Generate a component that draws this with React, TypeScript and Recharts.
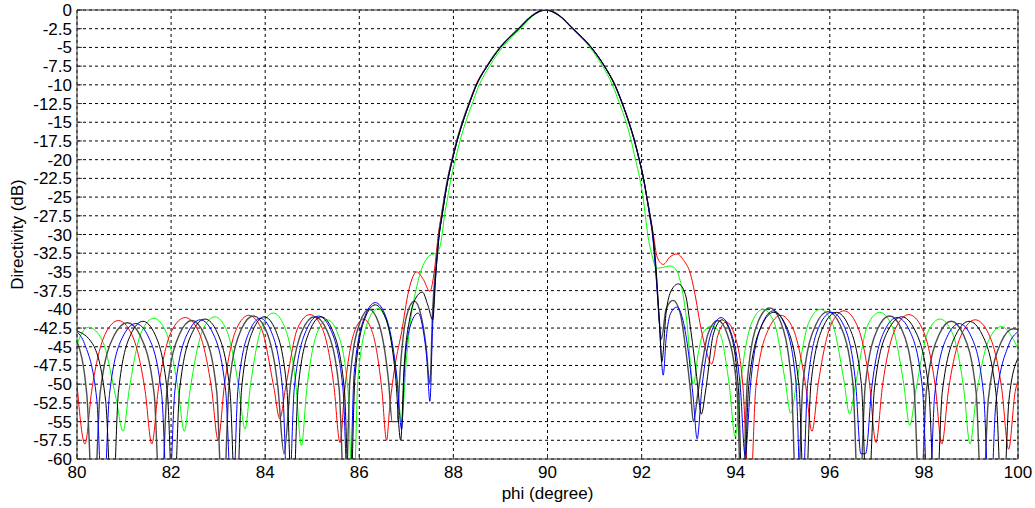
import React from 'react';
import { LineChart, Line, XAxis, YAxis, CartesianGrid } from 'recharts';

type Pt = [number, number];

const xTicks = [80, 82, 84, 86, 88, 90, 92, 94, 96, 98, 100];
const yTicks = [
  0, -2.5, -5, -7.5, -10, -12.5, -15, -17.5, -20, -22.5, -25, -27.5, -30,
  -32.5, -35, -37.5, -40, -42.5, -45, -47.5, -50, -52.5, -55, -57.5, -60,
];

// [phi (degree), directivity (dB)]
const redPattern: Pt[] = [
  [80, -50], [80.17, -58],
  [80.31, -51], [80.6, -43.3], [80.88, -41.5], [81.16, -43.3], [81.45, -51], [81.59, -58],
  [81.73, -50.6], [82.01, -42.9], [82.3, -41.1], [82.58, -42.9], [82.86, -50.6], [83.0, -57.5],
  [83.13, -50.3], [83.39, -42.6], [83.65, -40.8], [83.92, -42.6], [84.18, -50.3], [84.31, -54.6],
  [84.44, -50.2], [84.69, -42.5], [84.95, -40.7], [85.21, -42.5], [85.46, -50.2], [85.59, -57.8],
  [85.69, -50.8], [85.89, -43.1], [86.09, -41.3], [86.28, -43.1], [86.48, -50.8], [86.58, -57.5],
  [86.65, -52.8], [86.76, -47.5], [86.9, -43], [87.05, -37.5], [87.22, -35], [87.36, -36], [87.5, -37.6], [87.6, -34.6], [87.68, -30],
  [87.74, -27.5], [87.81, -25], [87.88, -22.5], [87.97, -20], [88.07, -17.5], [88.19, -15], [88.33, -12.5], [88.48, -10],
  [88.71, -7.5], [88.99, -5], [89.38, -2.5], [89.66, -0.8], [89.82, -0.2], [89.96, 0], [90.1, -0.2], [90.26, -0.8],
  [90.54, -2.5], [90.93, -5], [91.21, -7.5], [91.43, -10], [91.59, -12.5], [91.73, -15], [91.85, -17.5], [91.95, -20],
  [92.04, -22.5], [92.11, -25], [92.18, -27.5], [92.25, -30], [92.33, -33], [92.46, -34], [92.6, -33], [92.75, -32.6],
  [92.9, -33.5], [93.03, -35.1], [93.15, -38.5], [93.24, -41.8], [93.35, -45], [93.49, -47.3],
  [93.62, -43.5], [93.8, -41.7], [93.98, -43.5], [94.15, -50], [94.3, -66],
  [94.43, -50.3], [94.7, -42.6], [94.96, -40.8], [95.22, -42.6], [95.49, -50.3], [95.62, -56.3],
  [95.76, -49.7], [96.03, -42], [96.3, -40.2], [96.57, -42], [96.84, -49.7], [96.98, -57.8],
  [97.12, -50.2], [97.4, -42.5], [97.68, -40.7], [97.96, -42.5], [98.24, -50.2], [98.38, -58],
  [98.52, -50.9], [98.81, -43.2], [99.09, -41.4], [99.37, -43.2], [99.66, -50.9], [99.8, -58.7],
  [99.94, -51], [100, -49.5],
];

const greenPattern: Pt[] = [
  [80, -44.8], [80.1, -43.2], [80.25, -42.4], [80.54, -44.2], [80.83, -51.9], [80.98, -56.3],
  [81.11, -50.7], [81.37, -43], [81.63, -41.2], [81.89, -43], [82.15, -50.7], [82.28, -56.3],
  [82.41, -50.5], [82.67, -42.8], [82.93, -41], [83.18, -42.8], [83.44, -50.5], [83.57, -56],
  [83.69, -50], [83.93, -42.3], [84.17, -40.5], [84.41, -42.3], [84.65, -50], [84.77, -58.2],
  [84.88, -50.9], [85.1, -43.2], [85.32, -41.4], [85.54, -43.2], [85.76, -50.9], [85.87, -68],
  [85.97, -49.4], [86.18, -41.7], [86.39, -39.9], [86.59, -41.7], [86.8, -49.4], [86.9, -55],
  [87, -46.8], [87.1, -41], [87.22, -37], [87.35, -34.2], [87.5, -32.8], [87.66, -32.4], [87.72, -31.5], [87.76, -30],
  [87.81, -27.5], [87.88, -25], [87.95, -22.5], [88.04, -20], [88.14, -17.5], [88.26, -15], [88.4, -12.5], [88.55, -10],
  [88.77, -7.5], [89.04, -5], [89.42, -2.5], [89.69, -0.8], [89.84, -0.2], [89.98, 0], [90.12, -0.2], [90.27, -0.8],
  [90.53, -2.5], [90.9, -5], [91.17, -7.5], [91.38, -10], [91.53, -12.5], [91.67, -15], [91.78, -17.5], [91.87, -20],
  [91.96, -22.5], [92.03, -25], [92.08, -27.5], [92.13, -30], [92.21, -32.5], [92.32, -34.5], [92.45, -34.4],
  [92.6, -34.2], [92.72, -34.6], [92.85, -37], [92.95, -41], [93.1, -50],
  [93.2, -46], [93.32, -43], [93.5, -42.2], [93.68, -43.5], [93.86, -50], [93.99, -57],
  [94.11, -49.5], [94.34, -41.8], [94.58, -40], [94.82, -41.8], [95.05, -49.5], [95.17, -53.9],
  [95.3, -49.5], [95.55, -41.8], [95.8, -40], [96.05, -41.8], [96.3, -49.5], [96.42, -54],
  [96.55, -49.9], [96.8, -42.2], [97.06, -40.4], [97.32, -42.2], [97.57, -49.9], [97.7, -55.5],
  [97.83, -50.8], [98.08, -43.1], [98.34, -41.3], [98.6, -43.1], [98.85, -50.8], [98.98, -58],
  [99.11, -51.8], [99.38, -44.1], [99.65, -42.3], [99.9, -44], [100, -45.3],
];

const bluePattern: Pt[] = [
  [80, -43], [80.16, -44.6], [80.42, -52], [80.55, -68],
  [80.69, -51.4], [80.97, -43.7], [81.25, -41.9], [81.52, -43.7], [81.8, -51.4], [81.94, -68],
  [82.08, -50.9], [82.35, -43.2], [82.62, -41.4], [82.89, -43.2], [83.16, -50.9], [83.3, -68],
  [83.42, -50.7], [83.66, -43], [83.9, -41.2], [84.13, -43], [84.37, -50.7], [84.49, -68],
  [84.62, -50.4], [84.88, -42.7], [85.13, -40.9], [85.39, -42.7], [85.65, -50.4], [85.78, -68],
  [85.89, -48.6], [86.12, -40.9], [86.34, -39.1], [86.56, -40.9], [86.79, -48.6], [86.9, -56],
  [86.96, -48], [87.08, -42.3], [87.25, -40.5], [87.35, -42.5], [87.44, -47], [87.5, -52.3],
  [87.56, -42], [87.63, -35], [87.7, -30], [87.76, -27.5], [87.82, -25], [87.89, -22.5], [87.98, -20], [88.08, -17.5],
  [88.2, -15], [88.34, -12.5], [88.49, -10], [88.72, -7.5], [89.0, -5], [89.39, -2.5], [89.67, -0.8], [89.82, -0.2],
  [89.96, 0], [90.1, -0.2], [90.26, -0.8], [90.54, -2.5], [90.93, -5], [91.21, -7.5], [91.43, -10], [91.59, -12.5],
  [91.73, -15], [91.85, -17.5], [91.95, -20], [92.04, -22.5], [92.11, -25], [92.17, -27.5], [92.23, -30], [92.3, -35],
  [92.37, -41], [92.46, -48.8],
  [92.52, -44], [92.62, -40.5], [92.75, -39.7], [92.88, -41.5], [93, -46], [93.1, -52], [93.18, -57.3],
  [93.28, -50.6], [93.49, -42.9], [93.69, -41.1], [93.89, -42.9], [94.1, -50.6], [94.2, -59.5],
  [94.32, -49.7], [94.56, -42], [94.8, -40.2], [95.04, -42], [95.28, -49.7], [95.4, -68],
  [95.53, -49.9], [95.78, -42.2], [96.04, -40.4], [96.3, -42.2], [96.55, -49.9], [96.66, -59.3], [96.76, -59.3],
  [96.89, -50.6], [97.16, -42.9], [97.43, -41.1], [97.7, -42.9], [97.97, -50.6], [98.1, -68],
  [98.23, -51.4], [98.49, -43.7], [98.75, -41.9], [99.01, -43.7], [99.27, -51.4], [99.4, -68],
  [99.53, -52.5], [99.8, -44.8], [100, -43],
];

const grayPattern: Pt[] = [
  [80, -44.3], [80.21, -51.5], [80.35, -68],
  [80.49, -51.3], [80.78, -43.6], [81.07, -41.8], [81.35, -43.6], [81.64, -51.3], [81.78, -68],
  [81.91, -51], [82.18, -43.3], [82.44, -41.5], [82.7, -43.3], [82.97, -51], [83.1, -68],
  [83.23, -50.4], [83.49, -42.7], [83.75, -40.9], [84.01, -42.7], [84.27, -50.4], [84.4, -59.3],
  [84.53, -50.5], [84.79, -42.8], [85.05, -41], [85.31, -42.8], [85.57, -50.5], [85.7, -68],
  [85.8, -49.5], [86.01, -41.8], [86.21, -40], [86.41, -41.8], [86.62, -49.5], [86.7, -55], [86.8, -55],
  [86.87, -48], [87, -41], [87.17, -38.9], [87.3, -40.5], [87.42, -45], [87.5, -50],
  [87.56, -40], [87.63, -34], [87.69, -30], [87.75, -27.5], [87.81, -25], [87.88, -22.5], [87.97, -20], [88.07, -17.5],
  [88.19, -15], [88.33, -12.5], [88.49, -10], [88.71, -7.5], [88.99, -5], [89.38, -2.5], [89.66, -0.8], [89.82, -0.2],
  [89.96, 0], [90.1, -0.2], [90.26, -0.8], [90.54, -2.5], [90.93, -5], [91.21, -7.5], [91.43, -10], [91.59, -12.5],
  [91.73, -15], [91.85, -17.5], [91.95, -20], [92.04, -22.5], [92.11, -25], [92.18, -27.5], [92.24, -30], [92.31, -35],
  [92.37, -41], [92.42, -44],
  [92.52, -40], [92.67, -38.8], [92.82, -40.5], [92.95, -46], [93.04, -51], [93.1, -55],
  [93.2, -51], [93.41, -43.3], [93.62, -41.5], [93.82, -43.3], [94.03, -51], [94.13, -68],
  [94.25, -49.3], [94.48, -41.6], [94.72, -39.8], [94.95, -41.6], [95.18, -49.3], [95.3, -68],
  [95.43, -49.8], [95.7, -42.1], [95.96, -40.3], [96.22, -42.1], [96.49, -49.8], [96.62, -68],
  [96.75, -50.4], [97.01, -42.7], [97.27, -40.9], [97.53, -42.7], [97.79, -50.4], [97.92, -68],
  [98.05, -51.1], [98.32, -43.4], [98.58, -41.6], [98.84, -43.4], [99.11, -51.1], [99.24, -68],
  [99.37, -52], [99.64, -44.4], [99.9, -42.6], [100, -42.7],
];

const blackPattern: Pt[] = [
  [80, -42.9], [80.33, -44.6], [80.61, -52.3], [80.75, -68],
  [80.88, -51.1], [81.14, -43.4], [81.4, -41.6], [81.66, -43.4], [81.92, -51.1], [82.05, -68],
  [82.18, -50.8], [82.45, -43.1], [82.72, -41.3], [82.98, -43.1], [83.25, -50.8], [83.38, -68],
  [83.5, -50.5], [83.74, -42.8], [83.98, -41], [84.22, -42.8], [84.46, -50.5], [84.58, -68],
  [84.7, -50.5], [84.95, -42.8], [85.19, -41], [85.43, -42.8], [85.68, -50.5], [85.8, -68],
  [85.91, -48.9], [86.12, -41.2], [86.34, -39.4], [86.56, -41.2], [86.77, -48.9], [86.88, -57.5],
  [86.95, -48], [87.08, -41], [87.2, -38.5], [87.34, -37.7], [87.46, -39.5], [87.56, -41.4],
  [87.63, -35], [87.7, -30], [87.76, -27.5], [87.82, -25], [87.89, -22.5], [87.98, -20], [88.08, -17.5], [88.2, -15],
  [88.34, -12.5], [88.49, -10], [88.72, -7.5], [89.0, -5], [89.39, -2.5], [89.67, -0.8], [89.82, -0.2], [89.96, 0],
  [90.1, -0.2], [90.26, -0.8], [90.54, -2.5], [90.93, -5], [91.21, -7.5], [91.43, -10], [91.59, -12.5], [91.73, -15],
  [91.85, -17.5], [91.95, -20], [92.04, -22.5], [92.11, -25], [92.18, -27.5], [92.24, -30], [92.31, -35], [92.38, -42],
  [92.43, -47],
  [92.52, -40.5], [92.63, -37.5], [92.78, -36.6], [92.93, -38], [93.05, -43], [93.17, -49], [93.27, -54],
  [93.36, -50.9], [93.53, -43.2], [93.71, -41.4], [93.89, -43.2], [94.06, -50.9], [94.15, -68],
  [94.28, -49.9], [94.55, -42.2], [94.81, -40.4], [95.07, -42.2], [95.34, -49.9], [95.47, -68],
  [95.6, -49.9], [95.87, -42.2], [96.14, -40.4], [96.4, -42.2], [96.67, -49.9], [96.8, -68],
  [96.95, -50.5], [97.24, -42.8], [97.53, -41], [97.81, -42.8], [98.1, -50.5], [98.25, -68],
  [98.39, -51.1], [98.68, -43.4], [98.96, -41.6], [99.24, -43.4], [99.53, -51.1], [99.67, -68],
  [99.81, -52], [100, -46.5],
];

const toRows = (pts: Pt[]) => pts.map(([phi, db]) => ({ phi, db }));

const series = [
  { key: 'green', color: '#00ff00', width: 1, rows: toRows(greenPattern) },
  { key: 'red', color: '#ff0000', width: 1, rows: toRows(redPattern) },
  { key: 'gray', color: '#4d4d4d', width: 1.4, rows: toRows(grayPattern) },
  { key: 'blue', color: '#0000ff', width: 1, rows: toRows(bluePattern) },
  { key: 'black', color: '#000000', width: 1, rows: toRows(blackPattern) },
];

const FONT = 'Liberation Sans, Arial, sans-serif';
const tickStyle = { fontFamily: FONT, fontSize: 17, fill: '#000' };
const labelStyle = { fontFamily: FONT, fontSize: 17, fill: '#000' };

export default function App() {
  return (
    <div style={{ position: 'absolute', left: 0, top: 0, background: '#fff' }}>
      <LineChart width={1035} height={508} margin={{ top: 10, right: 17, bottom: 0, left: 0 }}>
        <CartesianGrid stroke="#000" strokeDasharray="3 3" />
        <XAxis
          dataKey="phi"
          type="number"
          domain={[80, 100]}
          ticks={xTicks}
          interval={0}
          allowDataOverflow
          height={49}
          tickSize={-5}
          tickMargin={12}
          stroke="#333"
          tick={tickStyle}
          label={{ value: 'phi (degree)', position: 'insideBottom', offset: 9, style: labelStyle }}
        />
        <XAxis xAxisId="top" orientation="top" type="number" domain={[80, 100]} ticks={xTicks} mirror tick={false} tickSize={5} stroke="#333" />
        <YAxis
          type="number"
          domain={[-60, 0]}
          ticks={yTicks}
          interval={0}
          allowDataOverflow
          width={77}
          tickSize={-5}
          tickMargin={10}
          stroke="#333"
          tick={tickStyle}
          label={{ value: 'Directivity (dB)', angle: -90, position: 'insideLeft', offset: 17, style: { ...labelStyle, textAnchor: 'middle' } }}
        />
        <YAxis yAxisId="right" orientation="right" type="number" domain={[-60, 0]} ticks={yTicks} mirror tick={false} tickSize={5} stroke="#333" />
        {series.map((s) => (
          <Line
            key={s.key}
            data={s.rows}
            dataKey="db"
            type="monotone"
            stroke={s.color}
            strokeWidth={s.width}
            dot={false}
            activeDot={false}
            isAnimationActive={false}
          />
        ))}
      </LineChart>
    </div>
  );
}
